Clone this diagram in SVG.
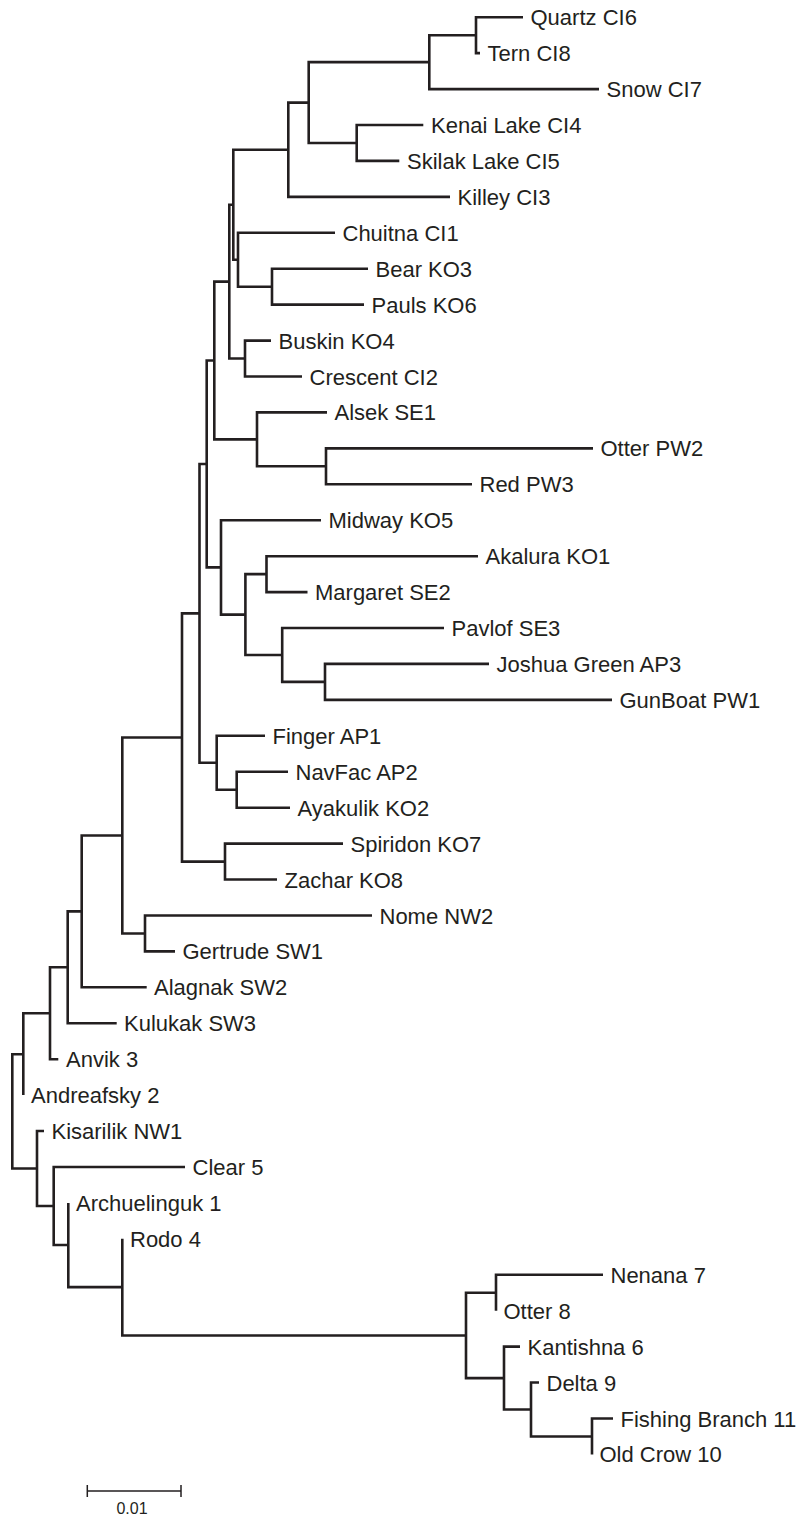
<svg xmlns="http://www.w3.org/2000/svg" width="809" height="1517" viewBox="0 0 809 1517">
<style>
.br{fill:none;stroke:#231f20;stroke-width:2.6;stroke-linejoin:miter;stroke-linecap:butt}
.sb{fill:none;stroke:#231f20;stroke-width:1.5}
.lb{font-family:"Liberation Sans",Arial,sans-serif;font-size:22px;fill:#231f20}
.sl{font-family:"Liberation Sans",Arial,sans-serif;font-size:16px;fill:#231f20;text-anchor:middle}
</style>
<rect width="809" height="1517" fill="#ffffff"/>
<g id="branches">
<path class="br" d="M523 17.2H476V53.1H480"/>
<path class="br" d="M476 35.2H429.3V89.1H599"/>
<path class="br" d="M423.3 125H356.7V160.9H399.3"/>
<path class="br" d="M429.3 62.1H308.7V143H356.7"/>
<path class="br" d="M308.7 102.6H288.3V196.9H450"/>
<path class="br" d="M368 268.7H272V304.6H364"/>
<path class="br" d="M335 232.8H238V286.7H272"/>
<path class="br" d="M288.3 149.7H233.3V259.7H238"/>
<path class="br" d="M271 340.6H245V376.5H302"/>
<path class="br" d="M233.3 204.7H229.3V358.5H245"/>
<path class="br" d="M593 448.4H326V484.3H472"/>
<path class="br" d="M327 412.4H257V466.3H326"/>
<path class="br" d="M229.3 281.6H214.3V439.4H257"/>
<path class="br" d="M478 556.2H266.5V592.1H307.5"/>
<path class="br" d="M489 663.9H325V699.9H612"/>
<path class="br" d="M444 628H282.2V681.9H325"/>
<path class="br" d="M266.5 574.1H245.4V655H282.2"/>
<path class="br" d="M321 520.2H221V614.6H245.4"/>
<path class="br" d="M214.3 360.5H206.7V567.4H221"/>
<path class="br" d="M288 771.7H236.7V807.7H290"/>
<path class="br" d="M265 735.8H216.7V789.7H236.7"/>
<path class="br" d="M206.7 464H199.5V762.8H216.7"/>
<path class="br" d="M343 843.6H225V879.5H277"/>
<path class="br" d="M199.5 613.4H182V861.6H225"/>
<path class="br" d="M372 915.5H145V951.4H175"/>
<path class="br" d="M182 737.5H122.3V933.5H145"/>
<path class="br" d="M122.3 835.5H81.7V987.3H146.7"/>
<path class="br" d="M81.7 911.4H67.7V1023.2H116.7"/>
<path class="br" d="M67.7 967.3H50V1059.2H58.3"/>
<path class="br" d="M50 1013.3H23.3V1095.1"/>
<path class="br" d="M603 1274.8H496V1310.7"/>
<path class="br" d="M613 1418.5H592V1454.4"/>
<path class="br" d="M539 1382.5H531V1436.5H592"/>
<path class="br" d="M520 1346.6H504V1409.5H531"/>
<path class="br" d="M496 1292.8H466V1378.1H504"/>
<path class="br" d="M122.3 1238.8V1335.5H466"/>
<path class="br" d="M68.3 1202.9V1287.1H122.3"/>
<path class="br" d="M185 1167H53.7V1245H68.3"/>
<path class="br" d="M44 1131H37V1206H53.7"/>
<path class="br" d="M23.3 1054.2H12.3V1168.5H37"/>
</g>
<g id="leaf-quartz"><text class="lb" x="530.5" y="25.2">Quartz CI6</text></g>
<g id="leaf-tern"><text class="lb" x="487.5" y="61.1">Tern CI8</text></g>
<g id="leaf-snow"><text class="lb" x="606.5" y="97.1">Snow CI7</text></g>
<g id="leaf-kenai"><text class="lb" x="431" y="133">Kenai Lake CI4</text></g>
<g id="leaf-skilak"><text class="lb" x="407" y="168.9">Skilak Lake CI5</text></g>
<g id="leaf-killey"><text class="lb" x="457.5" y="204.9">Killey CI3</text></g>
<g id="leaf-chuitna"><text class="lb" x="342.5" y="240.8">Chuitna CI1</text></g>
<g id="leaf-bear"><text class="lb" x="375.5" y="276.7">Bear KO3</text></g>
<g id="leaf-pauls"><text class="lb" x="371.5" y="312.6">Pauls KO6</text></g>
<g id="leaf-buskin"><text class="lb" x="278.5" y="348.6">Buskin KO4</text></g>
<g id="leaf-crescent"><text class="lb" x="309.5" y="384.5">Crescent CI2</text></g>
<g id="leaf-alsek"><text class="lb" x="334.5" y="420.4">Alsek SE1</text></g>
<g id="leaf-otter-pw2"><text class="lb" x="600.5" y="456.4">Otter PW2</text></g>
<g id="leaf-red"><text class="lb" x="479.5" y="492.3">Red PW3</text></g>
<g id="leaf-midway"><text class="lb" x="328.5" y="528.2">Midway KO5</text></g>
<g id="leaf-akalura"><text class="lb" x="485.5" y="564.2">Akalura KO1</text></g>
<g id="leaf-margaret"><text class="lb" x="315" y="600.1">Margaret SE2</text></g>
<g id="leaf-pavlof"><text class="lb" x="451.5" y="636">Pavlof SE3</text></g>
<g id="leaf-joshua"><text class="lb" x="496.5" y="671.9">Joshua Green AP3</text></g>
<g id="leaf-gunboat"><text class="lb" x="619.5" y="707.9">GunBoat PW1</text></g>
<g id="leaf-finger"><text class="lb" x="272.5" y="743.8">Finger AP1</text></g>
<g id="leaf-navfac"><text class="lb" x="295.5" y="779.7">NavFac AP2</text></g>
<g id="leaf-ayakulik"><text class="lb" x="297.5" y="815.7">Ayakulik KO2</text></g>
<g id="leaf-spiridon"><text class="lb" x="350.5" y="851.6">Spiridon KO7</text></g>
<g id="leaf-zachar"><text class="lb" x="284.5" y="887.5">Zachar KO8</text></g>
<g id="leaf-nome"><text class="lb" x="379.5" y="923.5">Nome NW2</text></g>
<g id="leaf-gertrude"><text class="lb" x="182.5" y="959.4">Gertrude SW1</text></g>
<g id="leaf-alagnak"><text class="lb" x="154" y="995.3">Alagnak SW2</text></g>
<g id="leaf-kulukak"><text class="lb" x="124" y="1031.2">Kulukak SW3</text></g>
<g id="leaf-anvik"><text class="lb" x="66" y="1067.2">Anvik 3</text></g>
<g id="leaf-andreafsky"><text class="lb" x="31" y="1103.1">Andreafsky 2</text></g>
<g id="leaf-kisarilik"><text class="lb" x="51.5" y="1139">Kisarilik NW1</text></g>
<g id="leaf-clear"><text class="lb" x="192.5" y="1175">Clear 5</text></g>
<g id="leaf-archuelinguk"><text class="lb" x="76" y="1210.9">Archuelinguk 1</text></g>
<g id="leaf-rodo"><text class="lb" x="130" y="1246.8">Rodo 4</text></g>
<g id="leaf-nenana"><text class="lb" x="610.5" y="1282.8">Nenana 7</text></g>
<g id="leaf-otter8"><text class="lb" x="503.5" y="1318.7">Otter 8</text></g>
<g id="leaf-kantishna"><text class="lb" x="527.5" y="1354.6">Kantishna 6</text></g>
<g id="leaf-delta"><text class="lb" x="546.5" y="1390.5">Delta 9</text></g>
<g id="leaf-fishing"><text class="lb" x="620.5" y="1426.5">Fishing Branch 11</text></g>
<g id="leaf-oldcrow"><text class="lb" x="599.5" y="1462.4">Old Crow 10</text></g>
<g id="scale-bar">
<path class="sb" d="M87.3 1491H181M87.3 1485V1497M181 1485V1497"/>
<text class="sl" x="132" y="1514">0.01</text>
</g>
</svg>
